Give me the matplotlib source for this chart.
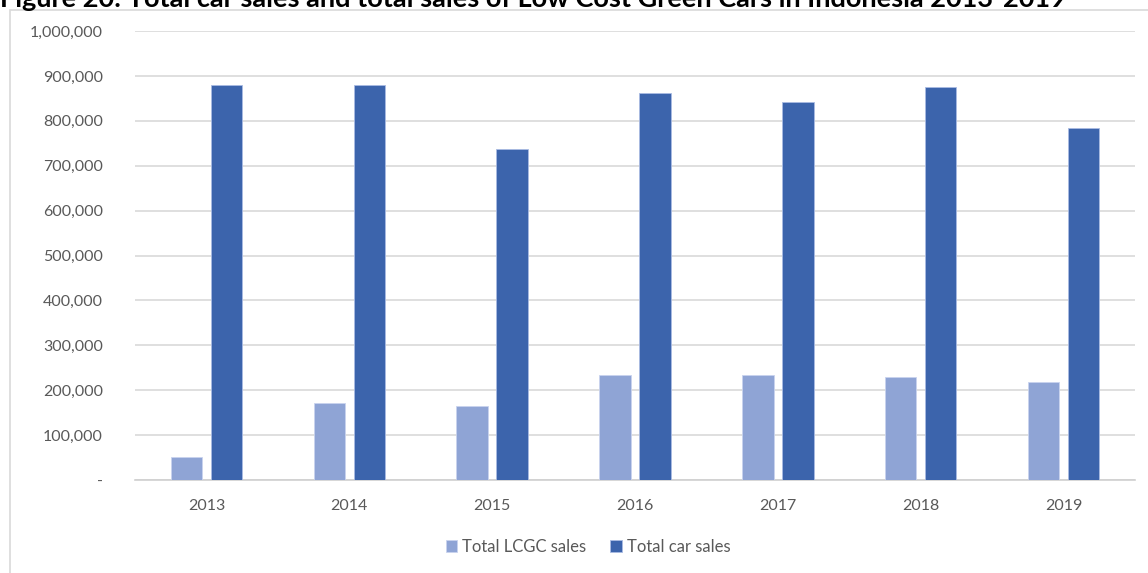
import matplotlib
matplotlib.use("Agg")
import matplotlib.pyplot as plt
from matplotlib.patches import Rectangle
from matplotlib.ticker import FuncFormatter
import numpy as np

years = ["2013", "2014", "2015", "2016", "2017", "2018", "2019"]
lcgc_sales = [51000, 172000, 165000, 234000, 234000, 229000, 218000]
car_sales = [880000, 880000, 738000, 861000, 841000, 875000, 785000]
series_names = ["Total LCGC sales", "Total car sales"]
title = "Figure 20: Total car sales and total sales of Low Cost Green Cars in Indonesia 2013-2019"

W, H = 1148, 573
plt.rcParams['font.family'] = ['Lato', 'DejaVu Sans']
fig = plt.figure(figsize=(W / 100, H / 100), dpi=100)

# outer chart frame
fig.patches.append(Rectangle((10 / W, -0.05), 1.1, 1 - 10 / H + 0.05, transform=fig.transFigure,
                             fill=False, edgecolor="#D9D9D9", linewidth=1.2))

# title (cut off at the top edge, as in the reference)
fig.text(0.0, 1 - 7 / H, title, fontsize=19.5, fontweight="bold", color="black",
         ha="left", va="baseline")

ax = fig.add_axes([135 / W, 93 / H, 1000 / W, 449 / H])
x = np.arange(len(years))
bw = 0.22
off = 0.14
c1, c2 = "#8FA4D5", "#3C64AC"
ax.bar(x - off, lcgc_sales, bw, color=c1, edgecolor="#C9D3EE", linewidth=0.6, label=series_names[0], zorder=3)
ax.bar(x + off, car_sales, bw, color=c2, edgecolor="#A9BBE3", linewidth=0.6, label=series_names[1], zorder=3)

ax.set_xlim(-0.5, len(years) - 0.5)
ax.set_ylim(0, 1000000)
ax.set_yticks(np.arange(0, 1000001, 100000))
ax.yaxis.set_major_formatter(FuncFormatter(lambda v, p: "-" if v == 0 else f"{int(v):,}"))
ax.set_xticks(x)
ax.set_xticklabels(years)
ax.grid(axis="y", color="#D9D9D9", linewidth=1.2, zorder=0)
for s in ["top", "right", "left"]:
    ax.spines[s].set_visible(False)
ax.spines["bottom"].set_color("#D0D0D0")
ax.spines["bottom"].set_linewidth(1.2)
ax.tick_params(axis="both", length=0, colors="#595959", labelsize=11.5)
ax.tick_params(axis="y", pad=23)
ax.tick_params(axis="x", pad=14)

fig.legend(loc="center", bbox_to_anchor=(588 / W, 1 - 547 / H), ncol=2, frameon=False,
           fontsize=12, labelcolor="#595959", handlelength=0.7, handleheight=0.7,
           handletextpad=0.3, columnspacing=1.4)

fig.savefig("out.png", dpi=100)
